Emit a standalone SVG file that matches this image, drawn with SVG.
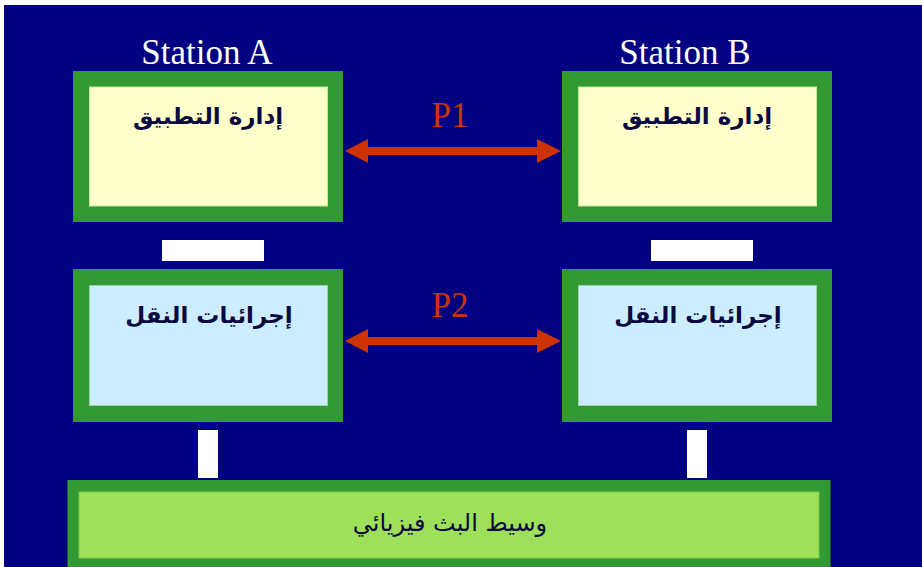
<svg xmlns="http://www.w3.org/2000/svg" width="922" height="567" viewBox="0 0 922 567">
  <style>
    .frame { fill: #339933; }
    .app { fill: #FFFFCC; stroke: #C8E89A; stroke-width: 1; }
    .tr { fill: #CCECFF; stroke: #9CCFA8; stroke-width: 1; }
    .phy { fill: #9FE05A; stroke: #7CC848; stroke-width: 1; }
    .link { fill: #FFFFFF; }
    .station { font-family: "Liberation Serif", "Times New Roman", serif; font-size: 35px; fill: #FFFFFF; text-anchor: middle; }
    .proto { font-family: "Liberation Serif", "Times New Roman", serif; font-size: 35px; fill: #CC3300; text-anchor: middle; }
    .ar { font-family: "DejaVu Sans", "Noto Sans", sans-serif; font-size: 23px; font-weight: bold; fill: #0A0A40; text-anchor: middle; direction: rtl; }
    .arn { font-family: "DejaVu Sans", "Noto Sans", sans-serif; font-size: 24px; fill: #0A0A40; text-anchor: middle; direction: rtl; }
    .arrow { fill: #CC3300; }
  </style>

  <!-- page background -->
  <rect x="0" y="0" width="922" height="567" fill="#FFFFFF"/>
  <rect x="4" y="5" width="918" height="562" fill="#000080"/>

  <!-- station captions -->
  <text class="station" x="207" y="64">Station A</text>
  <text class="station" x="685" y="64">Station B</text>

  <!-- station A: application layer -->
  <g id="app-a">
    <rect class="frame" x="73" y="71" width="270" height="151"/>
    <rect class="app" x="89.5" y="87" width="238" height="119"/>
    <text class="ar" x="208" y="124">إدارة التطبيق</text>
  </g>

  <!-- station B: application layer -->
  <g id="app-b">
    <rect class="frame" x="562" y="71" width="270" height="151"/>
    <rect class="app" x="578.5" y="87" width="238" height="119"/>
    <text class="ar" x="697" y="124">إدارة التطبيق</text>
  </g>

  <!-- station A: transport layer -->
  <g id="tr-a">
    <rect class="frame" x="73" y="269" width="270" height="153"/>
    <rect class="tr" x="89.5" y="285.5" width="238" height="120"/>
    <text class="ar" x="209" y="323">إجرائيات النقل</text>
  </g>

  <!-- station B: transport layer -->
  <g id="tr-b">
    <rect class="frame" x="562" y="269" width="270" height="153"/>
    <rect class="tr" x="578.5" y="285.5" width="238" height="120"/>
    <text class="ar" x="698" y="323">إجرائيات النقل</text>
  </g>

  <!-- shared physical medium -->
  <g id="medium">
    <rect class="frame" x="67.5" y="480" width="763" height="90"/>
    <rect class="phy" x="79" y="492" width="740" height="66"/>
    <text class="arn" x="450" y="531">وسيط البث فيزيائي</text>
  </g>

  <!-- connectors -->
  <g id="connectors">
    <!-- layer interfaces -->
    <rect class="link" x="162" y="240" width="102" height="21"/>
    <rect class="link" x="651" y="240" width="102" height="21"/>
    <rect class="link" x="198" y="430" width="20" height="48"/>
    <rect class="link" x="687" y="430" width="20" height="48"/>

    <!-- peer protocol P1 -->
    <polygon class="arrow" points="345,151 368,139 368,147 537,147 537,139 561,151 537,163 537,155 368,155 368,163"/>
    <text class="proto" x="450" y="127">P1</text>

    <!-- peer protocol P2 -->
    <polygon class="arrow" points="345,341 368,329 368,337 537,337 537,329 561,341 537,353 537,345 368,345 368,353"/>
    <text class="proto" x="450" y="317">P2</text>
  </g>
</svg>
